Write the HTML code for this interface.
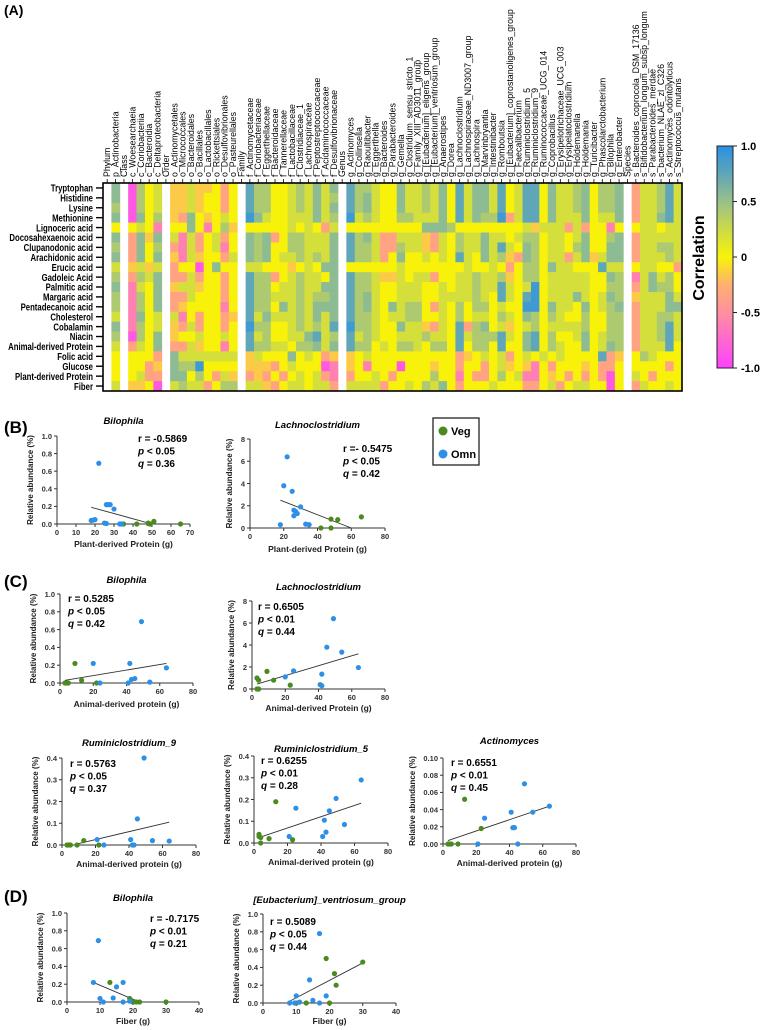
<!DOCTYPE html>
<html><head><meta charset="utf-8"><style>
html,body{margin:0;padding:0;background:#fff;}
svg{display:block;font-family:"Liberation Sans",Arial,sans-serif;}
</style></head><body>
<svg id="fig" width="760" height="1030" viewBox="0 0 760 1030" xmlns="http://www.w3.org/2000/svg">
<text x="4" y="15" font-size="14" font-weight="bold">(A)</text>
<text x="4" y="433" font-size="17" font-weight="bold">(B)</text>
<text x="4" y="587" font-size="17" font-weight="bold">(C)</text>
<text x="4" y="902" font-size="17" font-weight="bold">(D)</text>
<g id="heat"></g>
<g id="cbar"></g>
<g>
<rect x="433" y="418" width="46" height="47" fill="#fff" stroke="#222" stroke-width="1.3"/>
<circle cx="443" cy="431" r="4.5" fill="#4a8a1e"/>
<text x="451" y="435" font-size="11" font-weight="bold">Veg</text>
<circle cx="443" cy="454" r="4.5" fill="#2e8fe6"/>
<text x="451" y="458" font-size="11" font-weight="bold">Omn</text>
</g>
<g id="plots"></g>
</svg>
<script>
// ---------- heatmap data ----------
const heatRows = ["Tryptophan","Histidine","Lysine","Methionine","Lignoceric acid","Docosahexaenoic acid","Clupanodonic acid","Arachidonic acid","Erucic acid","Gadoleic Acid","Palmitic acid","Margaric acid","Pentadecanoic acid","Cholesterol","Cobalamin","Niacin","Animal-derived Protein","Folic acid","Glucose","Plant-derived Protein","Fiber"];
const heatCols = ["Phylum","p_Actinobacteria","Class","c_Woesearchaeia","c_Coriobacteriia","c_Bacteroidia","c_Deltaproteobacteria","Order","o_Actinomycetales","o_Micrococcales","o_Bacteroidales","o_Bacillales","o_Lactobacillales","o_Rickettsiales","o_Desulfovibrionales","o_Pasteurellales","Family","f_Actinomycetaceae","f_Coriobacteriaceae","f_Eggerthellaceae","f_Bacteroidaceae","f_Tannerellaceae","f_Lactobacillaceae","f_Clostridiaceae_1","f_Lachnospiraceae","f_Peptostreptococcaceae","f_Acidaminococcaceae","f_Desulfovibrionaceae","Genus","g_Actinomyces","g_Collinsella","g_Raoultibacter","g_Eggerthella","g_Bacteroides","g_Parabacteroides","g_Gemella","g_Clostridium_sensu_stricto_1","g_Family_XIII_AD3011_group","g_[Eubacterium]_eligens_group","g_[Eubacterium]_ventriosum_group","g_Anaerostipes","g_Dorea","g_Lachnoclostridium","g_Lachnospiraceae_ND3007_group","g_Lachnospira","g_Marvinbryantia","g_Intestinibacter","g_Romboutsia","g_[Eubacterium]_coprostanoligenes_group","g_Faecalibacterium","g_Ruminiclostridium_5","g_Ruminiclostridium_9","g_Ruminococcaceae_UCG_014","g_Coprobacillus","g_Erysipelotrichaceae_UCG_003","g_Erysipelatoclostridium","g_Holdemanella","g_Holdemania","g_Turicibacter","g_Phascolarctobacterium","g_Bilophila","g_Enterobacter","Species","s_Bacteroides_coprocola_DSM_17136","s_Bifidobacterium_longum_subsp_longum","s_Parabacteroides_merdae","s_bacterium_NLAE_zl_C326","s_Actinomyces_odontolyticus","s_Streptococcus_mutans"];
// value codes per column (one char per row): M=-0.85 P=-0.6 o=-0.35 r=-0.15 y=0 l=0.2 g=0.4 G=0.55 b=0.75 B=0.9 .=blank
const codeLevels = {M:-0.85,P:-0.6,o:-0.35,r:-0.15,y:0,l:0.2,g:0.4,G:0.55,b:0.75,B:0.9};
const heatCodes = [
".....................","GGgGyGgGlgGgglGglyyyl",".....................","MMMMyoooroPPPPPMoyyyr","gggGlGGGlglggGgglyylr","yyyyyryyrlyyyyyyyyooy","lllgPGgGlGGGGllGGoroM",
".....................","rrrrylorooroolrroGGGl","rrroyPPPyolorPoyolgGg","lllGGlllylllyylyllgyl","rrryyoorMoryyoolrlBgl","ryyrPyyyyyyyyyyyylyyo","yyyyyllyGyyyyyyyylyoy","ooolgoPoyoooPoolPlylg","yyyyryylyyyyyryyylyrg",
".....................","bbbByGGGlbbbbbBbbrrol","gggGyggglgggglglglrrl","ggglyGGGyggggGgggyror","yyyyyoyyyoylylyylyoyo","yyyyyyylyyllGlyylyyoy","lllllgglrlllllllyGlyl","ggglygggygggggglgyyll","lllllllllllllllGglyyy","GGGGyllgyllgGGgbGyyll","llllolllGyGgGlllloMol","GgGglGGGGGGGGGbgGrPPo",
".....................","bbbBybbbybbbbbBbbrrol","ggglygggygggggglgyyyl","gGGgyGggyggGGgggglPyl","llllylllylllllllyyyll","yyyyyoooyryyyyyylyyyo","yyyyyooyyryyGlyyyyyoy","GGGgylgGllllllGlgyMyy","lllgyllyyyllggllgyyyl","llllyllyylllgglllyyyy","ggglGrrlylyyyyrgyyyyg","llllGooyyoyyoyolgyrgl","GGGGGlllyyllllllgyyyG","yyyygyyyyyylyyyyyyyyy","bbbbyggbylllggbbbooPo","llllylllllllyyolyryyy","GGGGyllyygggglgggyyoy","GGGgyGGGylllglGgglooy","lllgyllllllyyyygyyyyl","bbbBylbgygbblglbbllgy","yyyoyylrorllylrlyoryy","llllylyoyyyyyyyyyyyly","bbbblgGGgglbBGlGGlrPo","bbbbrgggggBBBggbbyPPo","yyyylyyyyyyyyyyyylyyy","GGGGllllGlllGglggyorl","lllllllllllllllyllyyo","lllloyyolllllylyyyyoy","ggglllglyllGyyllyyyyl","GGGGoGGGylllGggGGyrol","yyyyyyyryyyyyyyyyyyyy","ggglyyylbyyllyyllbooy","ggglPgGGlGgGggggGooMM","GGGGyGGGlgggGggggryyy",
".....................","ooooyoooyPoroooooyylo","lllllllllllllllllgyyl","lllllllllGGlllllllyoy","gggGylglylgllggglyyyy","bbbbllggyggGGgbbbyoyl","lllllllloyylGlllyyyyy"
];
const cbarTicks = [1.0,0.5,0,-0.5,-1.0];
const cbarTickLabels = ["1.0","0.5","0","-0.5","-1.0"];

// ---------- scatter data ----------
const b1OmnX=[18,19,20,22,25,26,27,28,26,30,33,34]; const b1OmnY=[0.04,0.045,0.05,0.69,0.01,0.22,0.22,0.22,0.005,0.17,0,0];
const b1VegX=[35,42,48,49,51,65,48]; const b1VegY=[0,0,0.01,0,0.03,0,0.005];
const b1Fit=[[18,0.19],[50,0]];
const b2OmnX=[18,20,22,25,26,26,27,28,30,33,35]; const b2OmnY=[0.3,3.8,6.4,3.3,1.1,1.6,1.5,1.3,1.9,0.35,0.3];
const b2VegX=[35,42,48,48,52,66]; const b2VegY=[0.3,0,0,0.8,0.75,1.0];
const b2Fit=[[18,2.5],[60,0]];
const c1VegX=[3,4,5,9,13,22]; const c1VegY=[0,0,0,0.22,0.03,0];
const c1OmnX=[20,24,41,42,43,45,49,54,64]; const c1OmnY=[0.22,0,0,0.22,0.04,0.05,0.69,0.01,0.17];
const c1Fit=[[3,0.03],[64,0.22]];
const c2VegX=[3,4,3,4,9,13,23]; const c2VegY=[1.0,0.8,0,0,1.6,0.8,0.35];
const c2OmnX=[20,25,41,42,42,45,49,54,64]; const c2OmnY=[1.1,1.65,0.4,1.35,0.3,3.8,6.4,3.35,1.95];
const c2Fit=[[3,0.45],[64,3.2]];
const c3VegX=[3,4,5,9,13,22]; const c3VegY=[0,0,0,0,0.02,0];
const c3OmnX=[21,25,41,42,43,45,49,54,64]; const c3OmnY=[0.025,0,0.025,0,0,0.12,0.4,0.02,0.018];
const c3Fit=[[9,0.005],[64,0.105]];
const c4VegX=[3,3,4,4,9,13,23]; const c4VegY=[0.04,0.03,0,0.025,0.02,0.19,0.015];
const c4OmnX=[21,25,41,42,43,45,49,54,64]; const c4OmnY=[0.03,0.16,0.03,0.105,0.05,0.148,0.205,0.085,0.29];
const c4Fit=[[3,0.025],[64,0.183]];
const c5VegX=[3,4,5,9,13,23]; const c5VegY=[0,0,0,0,0.052,0.018];
const c5OmnX=[21,25,41,42,43,45,49,54,64]; const c5OmnY=[0,0.03,0.037,0.019,0.019,0,0.07,0.037,0.044];
const c5Fit=[[3,0.004],[64,0.044]];
const d1OmnX=[8,9.5,10,11,14,15,17,17,19]; const d1OmnY=[0.22,0.69,0.04,0,0.045,0.17,0.22,0,0.01];
const d1VegX=[13,19,20,21,22,30]; const d1VegY=[0.22,0.04,0,0,0,0];
const d1Fit=[[8,0.22],[22,0]];
const d2OmnX=[8,9.5,10,11,14,15,17,17,19]; const d2OmnY=[0,0,0.08,0.01,0.26,0.03,0.78,0,0.08];
const d2VegX=[10,13,19,20,21.5,22,30]; const d2VegY=[0,0,0.5,0,0.33,0.2,0.46];
const d2Fit=[[8,0.02],[30,0.45]];
const ticksUnit=[0,0.2,0.4,0.6,0.8,1.0]; const tickLabelsUnit=["0.0","0.2","0.4","0.6","0.8","1.0"];
const ticks8=[0,2,4,6,8]; const tickLabels8=["0","2","4","6","8"];
const ticks04=[0,0.1,0.2,0.3,0.4]; const tickLabels04=["0.0","0.1","0.2","0.3","0.4"];
const ticks010=[0,0.02,0.04,0.06,0.08,0.10]; const tickLabels010=["0.00","0.02","0.04","0.06","0.08","0.10"];
const xTicks70=[0,10,20,30,40,50,60,70]; const xTicks80=[0,20,40,60,80]; const xTicks40=[0,10,20,30,40];

const NS="http://www.w3.org/2000/svg";
function mk(tag,attrs,parent){const e=document.createElementNS(NS,tag);for(const k in attrs)e.setAttribute(k,attrs[k]);parent.appendChild(e);return e;}
const stops=[[-1,[255,64,255]],[-0.5,[255,144,160]],[-0.25,[255,176,112]],[0,[248,242,10]],[0.25,[204,218,72]],[0.5,[152,192,138]],[0.75,[95,166,184]],[1,[42,144,228]]];
function colorOf(v){for(let i=0;i<stops.length-1;i++){const a=stops[i],b=stops[i+1];if(v<=b[0]){const t=(v-a[0])/(b[0]-a[0]);const c=a[1].map((x,j)=>Math.round(x+(b[1][j]-x)*t));return "rgb("+c.join(",")+")";}}return "rgb(42,144,228)";}

// ---------- heatmap ----------
(function(){
const g=document.getElementById('heat');
const X0=103,X1=682,Y0=183,Y1=391;
const cw=(X1-X0)/heatCols.length, rh=(Y1-Y0)/heatRows.length;
heatCodes.forEach((col,ci)=>{
  for(let ri=0;ri<heatRows.length;ri++){
    const ch=col[ri];
    if(ch==='.'||ch===undefined)continue;
    const r=mk('rect',{x:(X0+ci*cw).toFixed(2),y:(Y0+ri*rh).toFixed(2),width:(cw+0.4).toFixed(2),height:(rh+0.4).toFixed(2),fill:colorOf(codeLevels[ch])},g);
    
    
  }
});
const frame=mk('rect',{x:X0,y:Y0,width:X1-X0,height:Y1-Y0,fill:'none',stroke:'#000','stroke-width':1.6},g);


heatCols.forEach((c,ci)=>{
  const cx=X0+(ci+0.5)*cw;
  mk('line',{x1:cx,y1:Y0-4,x2:cx,y2:Y0,stroke:'#000','stroke-width':0.8},g);
  const t=mk('text',{x:0,y:0,'font-size':8.8,transform:`translate(${(cx+3).toFixed(2)},${Y0-6}) rotate(-90)`},g);
  t.textContent=c;
  
  
});
heatRows.forEach((r,ri)=>{
  const cy=Y0+(ri+0.5)*rh;
  mk('line',{x1:X0-7,y1:cy,x2:X0,y2:cy,stroke:'#000','stroke-width':1.4},g);
  const t=mk('text',{x:0,y:0,'font-size':10.5,'font-weight':'bold','text-anchor':'end',transform:`translate(${X0-10},${(cy+3.7).toFixed(2)}) scale(0.74,1)`},g);
  t.textContent=r;
  
  
});
})();

// ---------- colorbar ----------
(function(){
const g=document.getElementById('cbar');
const x=717,w=16,top=146,bot=368;
const defs=mk('defs',{},g);
const lg=mk('linearGradient',{id:'cg',x1:0,y1:1,x2:0,y2:0},defs);
stops.forEach(s=>mk('stop',{offset:((s[0]+1)/2*100)+'%','stop-color':'rgb('+s[1].join(',')+')'},lg));
const r=mk('rect',{x:x,y:top,width:w,height:bot-top,fill:'url(#cg)',stroke:'#222','stroke-width':1},g);


cbarTicks.forEach((v,i)=>{
  const y=bot-(v+1)/2*(bot-top);
  mk('line',{x1:x+w,y1:y,x2:x+w+4,y2:y,stroke:'#222'},g);
  const t=mk('text',{x:x+w+8,y:y+4,'font-size':11,'font-weight':'bold'},g);
  t.textContent=cbarTickLabels[i];
  
  
});
const tt=mk('text',{x:0,y:0,'font-size':16,'font-weight':'bold','text-anchor':'middle',transform:'translate(704,258) rotate(-90)'},g);
tt.textContent='Correlation';


})();

// ---------- scatter plots ----------
function scatter(p){
  const root=document.getElementById('plots');
  const g=mk('g',{},root);
  
  
  const sx=v=>p.x0+(v-p.xmin)/(p.xmax-p.xmin)*(p.x1-p.x0);
  const sy=v=>p.yb-(v-p.ymin)/(p.ymax-p.ymin)*(p.yb-p.yt);
  mk('line',{x1:p.x0,y1:p.yt,x2:p.x0,y2:p.yb,stroke:'#333','stroke-width':1},g);
  mk('line',{x1:p.x0,y1:p.yb,x2:p.x1,y2:p.yb,stroke:'#333','stroke-width':1},g);
  p.yticks.forEach((v,i)=>{
    const y=sy(v);
    mk('line',{x1:p.x0-3,y1:y,x2:p.x0,y2:y,stroke:'#333'},g);
    const t=mk('text',{x:p.x0-5,y:y+2.8,'font-size':7.5,'font-weight':'bold','text-anchor':'end',fill:'#333'},g);
    t.textContent=p.ylabels[i];
    
    
  });
  p.xticks.forEach(v=>{
    const x=sx(v);
    mk('line',{x1:x,y1:p.yb,x2:x,y2:p.yb+3,stroke:'#333'},g);
    const t=mk('text',{x:x,y:p.yb+11,'font-size':7.5,'font-weight':'bold','text-anchor':'middle',fill:'#333'},g);
    t.textContent=String(v);
    
    
  });
  const fit=mk('line',{x1:sx(p.fit[0][0]),y1:sy(p.fit[0][1]),x2:sx(p.fit[1][0]),y2:sy(p.fit[1][1]),stroke:'#333','stroke-width':0.9},g);
  
  
  p.vx.forEach((v,i)=>{
    const c=mk('circle',{cx:sx(v),cy:sy(p.vy[i]),r:2.6,fill:'#4a8a1e'},g);
    
    
  });
  p.ox.forEach((v,i)=>{
    const c=mk('circle',{cx:sx(v),cy:sy(p.oy[i]),r:2.6,fill:'#2e8fe6'},g);
    
    
  });
  const ti=mk('text',{x:(p.x0+p.x1)/2,y:p.ty,'font-size':9.5,'font-weight':'bold','font-style':'italic','text-anchor':'middle'},g);
  ti.textContent=p.title;
  
  
  const xl=mk('text',{x:(p.x0+p.x1)/2,y:p.yb+p.xlOff,'font-size':8.5,'font-weight':'bold','text-anchor':'middle',fill:'#222'},g);
  xl.textContent=p.xlabel;
  
  
  const yl=mk('text',{x:0,y:0,'font-size':8,'font-weight':'bold','text-anchor':'middle',fill:'#222',transform:`translate(${p.x0-p.ylOff},${(p.yt+p.yb)/2}) rotate(-90)`},g);
  yl.textContent='Relative abundance (%)';
  
  
  const lines=[['r',p.r],['p',p.p],['q',p.q]];
  lines.forEach((l,i)=>{
    const t=mk('text',{x:p.sx,y:p.sy+i*12.5,'font-size':10,'font-weight':'bold'},g);
    if(i===0){t.textContent=p.r;}
    else{const s=mk('tspan',{'font-style':'italic'},t);s.textContent=l[0];t.appendChild(document.createTextNode(l[1]));}
    
    
  });
}
const APL='Animal-derived protein (g)', APL2='Animal-derived Protein (g)';
scatter({name:'b-bilophila-plot',x0:57,x1:190,yt:436,yb:524,xmin:0,xmax:70,ymin:0,ymax:1,xticks:xTicks70,yticks:ticksUnit,ylabels:tickLabelsUnit,ox:b1OmnX,oy:b1OmnY,vx:b1VegX,vy:b1VegY,fit:b1Fit,title:'Bilophila',ty:424,xlabel:'Plant-derived Protein (g)',xlOff:23,ylOff:24,r:'r = -0.5869',p:' < 0.05',q:' = 0.36',sx:138,sy:442});
scatter({name:'b-lachnoclostridium-plot',x0:250,x1:385,yt:439,yb:528,xmin:0,xmax:80,ymin:0,ymax:8,xticks:xTicks80,yticks:ticks8,ylabels:tickLabels8,ox:b2OmnX,oy:b2OmnY,vx:b2VegX,vy:b2VegY,fit:b2Fit,title:'Lachnoclostridium',ty:428,xlabel:'Plant-derived Protein (g)',xlOff:24,ylOff:18,r:'r =- 0.5475',p:' < 0.05',q:' = 0.42',sx:343,sy:452});
scatter({name:'c-bilophila-plot',x0:60,x1:193,yt:594,yb:683,xmin:0,xmax:80,ymin:0,ymax:1,xticks:xTicks80,yticks:ticksUnit,ylabels:tickLabelsUnit,ox:c1OmnX,oy:c1OmnY,vx:c1VegX,vy:c1VegY,fit:c1Fit,title:'Bilophila',ty:583,xlabel:APL,xlOff:24,ylOff:24,r:'r = 0.5285',p:' < 0.05',q:' = 0.42',sx:68,sy:602});
scatter({name:'c-lachnoclostridium-plot',x0:252,x1:385,yt:601,yb:689,xmin:0,xmax:80,ymin:0,ymax:8,xticks:xTicks80,yticks:ticks8,ylabels:tickLabels8,ox:c2OmnX,oy:c2OmnY,vx:c2VegX,vy:c2VegY,fit:c2Fit,title:'Lachnoclostridium',ty:590,xlabel:APL2,xlOff:22,ylOff:18,r:'r = 0.6505',p:' < 0.01',q:' = 0.44',sx:258,sy:610});
scatter({name:'c-ruminiclostridium9-plot',x0:62,x1:196,yt:758,yb:845,xmin:0,xmax:80,ymin:0,ymax:0.4,xticks:xTicks80,yticks:ticks04,ylabels:tickLabels04,ox:c3OmnX,oy:c3OmnY,vx:c3VegX,vy:c3VegY,fit:c3Fit,title:'Ruminiclostridium_9',ty:746,xlabel:APL,xlOff:22,ylOff:24,r:'r = 0.5763',p:' < 0.05',q:' = 0.37',sx:70,sy:767});
scatter({name:'c-ruminiclostridium5-plot',x0:254,x1:388,yt:756,yb:843,xmin:0,xmax:80,ymin:0,ymax:0.4,xticks:xTicks80,yticks:ticks04,ylabels:tickLabels04,ox:c4OmnX,oy:c4OmnY,vx:c4VegX,vy:c4VegY,fit:c4Fit,title:'Ruminiclostridium_5',ty:752,xlabel:APL,xlOff:22,ylOff:24,r:'r = 0.6255',p:' < 0.01',q:' = 0.28',sx:261,sy:764});
scatter({name:'c-actinomyces-plot',x0:443,x1:576,yt:758,yb:844,xmin:0,xmax:80,ymin:0,ymax:0.1,xticks:xTicks80,yticks:ticks010,ylabels:tickLabels010,ox:c5OmnX,oy:c5OmnY,vx:c5VegX,vy:c5VegY,fit:c5Fit,title:'Actinomyces',ty:744,xlabel:APL,xlOff:22,ylOff:28,r:'r = 0.6551',p:' < 0.01',q:' = 0.45',sx:451,sy:766});
scatter({name:'d-bilophila-plot',x0:67,x1:199,yt:913,yb:1002,xmin:0,xmax:40,ymin:0,ymax:1,xticks:xTicks40,yticks:ticksUnit,ylabels:tickLabelsUnit,ox:d1OmnX,oy:d1OmnY,vx:d1VegX,vy:d1VegY,fit:d1Fit,title:'Bilophila',ty:901,xlabel:'Fiber (g)',xlOff:22,ylOff:24,r:'r = -0.7175',p:' < 0.01',q:' = 0.21',sx:150,sy:922});
scatter({name:'d-eubacterium-ventriosum-plot',x0:263,x1:396,yt:914,yb:1003,xmin:0,xmax:40,ymin:0,ymax:1,xticks:xTicks40,yticks:ticksUnit,ylabels:tickLabelsUnit,ox:d2OmnX,oy:d2OmnY,vx:d2VegX,vy:d2VegY,fit:d2Fit,title:'[Eubacterium]_ventriosum_group',ty:903,xlabel:'Fiber (g)',xlOff:21,ylOff:24,r:'r = 0.5089',p:' < 0.05',q:' = 0.44',sx:270,sy:925});
</script>
</body></html>
